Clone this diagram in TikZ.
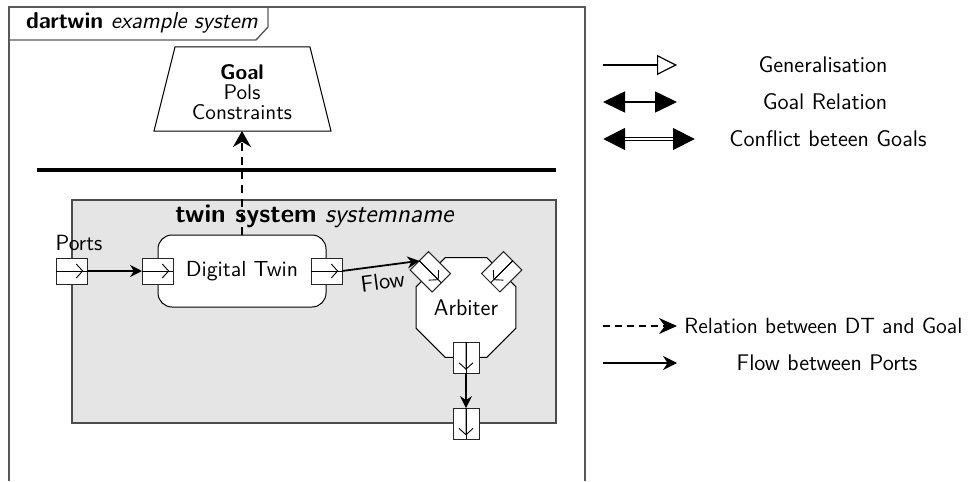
\documentclass[tikz,border=0pt]{standalone}
\usetikzlibrary{arrows.meta,shapes.geometric,calc}
\renewcommand{\familydefault}{\sfdefault}
\begin{document}
\begin{tikzpicture}[x=0.5pt,y=-0.5pt, font=\sffamily,
  frame/.style={draw=black!65, line width=0.7pt},
  port/.style={draw=black!85, fill=white, line width=0.5pt, minimum width=15.5pt, minimum height=13pt, inner sep=0pt, outer sep=0pt},
  portsym/.style={line width=0.45pt},
  flowarrow/.style={line width=0.9pt, -{Stealth[length=6pt,width=6pt]}},
  relarrow/.style={line width=0.9pt, dash pattern=on 3.5pt off 2.5pt, -{Stealth[length=7pt,width=8.5pt]}},
  legfont/.style={font=\sffamily\fontsize{11.3}{13}\selectfont}
  ]
\useasboundingbox (0,0) rectangle (972,481);
% outer frame and tab
\draw[frame] (9,481) -- (9,7) -- (585,7) -- (585,481);
\draw[frame] (9,7) -- (268,7) -- (268,27) -- (256,40) -- (9,40);
\node[anchor=west, font=\sffamily\fontsize{11.5}{13}\selectfont] (title) at (19,23) {\textbf{dartwin} \textsl{example system}};
% goal
\draw[line width=0.5pt] (175,47) -- (310,47) -- (331,131) -- (154,131) -- cycle;
\node[align=center, font=\sffamily\fontsize{10.6}{10}\selectfont] (goal) at (242,92) {\textbf{Goal}\\Pols\\Constraints};
\coordinate (gb) at (242,131);
% separator
\draw[line width=2pt] (37,170) -- (556,170);
% twin system box
\node[draw=black!70, fill=black!10, line width=0.6pt, minimum width=242pt, minimum height=111.5pt, inner sep=0pt] (tsys) at (314,311.5) {};
\node[font=\sffamily\fontsize{13}{15}\selectfont] (tsyslabel) at (315,216) {\textbf{twin system} \textsl{systemname}};
\node[font=\sffamily\fontsize{11}{13}\selectfont] (portslabel) at (79,243) {Ports};
% digital twin
\node[draw, rounded corners=7pt, fill=white, minimum width=84pt, minimum height=36pt, line width=0.5pt, font=\sffamily\fontsize{10.9}{12}\selectfont] (dt) at (242,271) {Digital Twin};
% arbiter
\node[draw, fill=white, regular polygon, regular polygon sides=8, minimum size=54.1pt, inner sep=0pt, line width=0.5pt, font=\sffamily\fontsize{11.3}{12}\selectfont] (arb) at (466,307.5) {Arbiter};
% ports
\node[port] (p1) at (71.5,271) {};
\node[port] (p2) at (dt.west) {};
\node[port] (p3) at (dt.east) {};
\node[port, rotate=-45] (p4) at (arb.135) {};
\node[port, rotate=-135] (p5) at (arb.45) {};
\node[port, rotate=-90] (p6) at (arb.south) {};
\node[port, rotate=-90] (p7) at (arb.south |- tsys.south) {};
\foreach \p in {p1,p2,p3,p4,p5,p6,p7}{
  \draw[portsym] (\p.west) -- (\p.east);
  \draw[portsym, -{Straight Barb[length=3.2pt,width=7pt]}] (\p.west) -- ($(\p.west)!0.88!(\p.east)$);
}
% connectors
\draw[flowarrow] (p1.east) -- (p2.west);
\draw[flowarrow] (p3.east) -- node[below, sloped, pos=0.5, font=\sffamily\fontsize{11.5}{13}\selectfont] {Flow} (p4.west);
\draw[flowarrow] (p6.east) -- (p7.west);
\draw[relarrow, dash pattern=on 4pt off 3pt, -{Stealth[length=8pt,width=9pt]}] (dt.north) -- (gb);
% legend
\coordinate (l1a) at (603,65);  \coordinate (l1b) at (677,65);
\coordinate (l2a) at (603,102); \coordinate (l2b) at (677,102);
\coordinate (l3a) at (603,139); \coordinate (l3b) at (695,139);
\coordinate (l4a) at (603,326); \coordinate (l4b) at (677,326);
\coordinate (l5a) at (603,363); \coordinate (l5b) at (677,363);
\draw[line width=0.6pt, -{Triangle[open, length=10pt, width=10pt]}] (l1a) -- (l1b);
\draw[line width=0.8pt, {Triangle[length=11pt,width=10.5pt]}-{Triangle[length=11pt,width=10.5pt]}] (l2a) -- (l2b);
\draw[line width=2.1pt, {Triangle[length=11pt,width=10.5pt]}-{Triangle[length=11pt,width=10.5pt]}] (l3a) -- (l3b);
\draw[white, line width=0.9pt, shorten <=11pt, shorten >=11pt] (l3a) -- (l3b);
\draw[relarrow, -{Stealth[length=9pt,width=8pt]}] (l4a) -- (l4b);
\draw[line width=0.9pt, -{Stealth[length=7pt,width=7pt]}] (l5a) -- (l5b);
\node[legfont] (t1) at (823,65) {Generalisation};
\node[legfont] (t2) at (825,102) {Goal Relation};
\node[legfont] (t3) at (828,139) {Conflict beteen Goals};
\node[anchor=west, inner sep=0pt, font=\sffamily\fontsize{11}{13}\selectfont] (t4) at (684,326) {Relation between DT and Goal};
\node[legfont] (t5) at (827,363) {Flow between Ports};
\end{tikzpicture}
\end{document}
